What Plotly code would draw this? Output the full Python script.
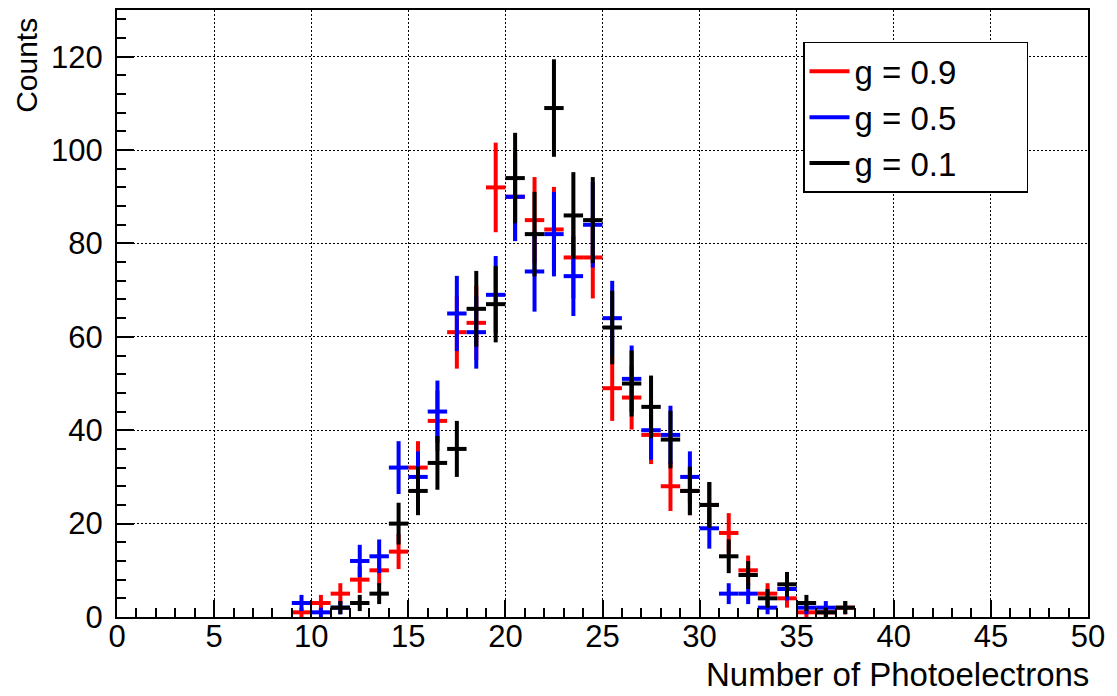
import math
import plotly.graph_objects as go

# ---- data ----
bin_centers = [9.5, 10.5, 11.5, 12.5, 13.5, 14.5, 15.5, 16.5, 17.5, 18.5,
               19.5, 20.5, 21.5, 22.5, 23.5, 24.5, 25.5, 26.5, 27.5, 28.5,
               29.5, 30.5, 31.5, 32.5, 33.5, 34.5, 35.5, 36.5, 37.5]
bin_half_width = 0.5

counts_g09 = [1, 3, 5, 8, 10, 14, 32, 42, 61, 63,
              92, 90, 85, 83, 77, 77, 49, 47, 39, 28,
              27, 24, 18, 10, 5, 4, 1, 1, 2]
counts_g05 = [3, 1, 2, 12, 13, 32, 30, 44, 65, 61,
              69, 90, 74, 82, 73, 84, 64, 51, 40, 39,
              30, 19, 5, 5, 2, 6, 2, 2, 0]
counts_g01 = [0, 0, 2, 3, 5, 20, 27, 33, 36, 66,
              67, 94, 82, 109, 86, 85, 62, 50, 45, 38,
              27, 24, 13, 9, 4, 7, 3, 1, 2]

series_names = ["g = 0.9", "g = 0.5", "g = 0.1"]
series_counts = [counts_g09, counts_g05, counts_g01]
series_colors = ["#ff0000", "#0000ff", "#000000"]

x_ticks = [0, 5, 10, 15, 20, 25, 30, 35, 40, 45, 50]
y_ticks = [0, 20, 40, 60, 80, 100, 120]

FONT = "Liberation Sans, Arial, Helvetica, sans-serif"
PAD = "\u00a0" * 7

fig = go.Figure()

for name, counts, color in zip(series_names, series_counts, series_colors):
    xs = [c for c, n in zip(bin_centers, counts) if n > 0]
    ys = [n for n in counts if n > 0]
    errs = [math.sqrt(n) for n in ys]
    fig.add_trace(go.Scatter(
        x=xs, y=ys, mode="markers",
        marker=dict(size=1, color=color),
        error_x=dict(type="constant", value=bin_half_width, color=color,
                     thickness=4, width=0),
        error_y=dict(type="data", array=errs, color=color,
                     thickness=4, width=0),
        showlegend=False, hoverinfo="skip",
    ))

# legend entries
for name, color in zip(series_names, series_colors):
    fig.add_trace(go.Scatter(
        x=[None], y=[None], mode="lines",
        line=dict(color=color, width=4), name=name + PAD,
    ))

axis_common = dict(
    ticks="inside", tickcolor="black", tickwidth=1.5,
    showline=True, linecolor="black", linewidth=2, mirror=True,
    showgrid=True, gridcolor="black", gridwidth=1, griddash="1.5px,2.5px",
    zeroline=False,
    tickfont=dict(family=FONT, size=31, color="black"),
)

fig.update_xaxes(
    range=[0, 50], tickvals=x_ticks, ticklen=17,
    minor=dict(dtick=1, ticklen=9, ticks="inside", tickcolor="black",
               tickwidth=1.5, showgrid=False),
    ticklabelstandoff=-9,
    **axis_common,
)
fig.update_yaxes(
    range=[0, 130], tickvals=y_ticks, ticklen=17,
    minor=dict(dtick=4, ticklen=9, ticks="inside", tickcolor="black",
               tickwidth=1.5, showgrid=False),
    ticklabelstandoff=6,
    **axis_common,
)

fig.add_annotation(
    text="Number of Photoelectrons", xref="paper", yref="paper",
    x=1, y=-0.095, xanchor="right", yanchor="middle", showarrow=False,
    xshift=3,
    font=dict(family=FONT, size=33, color="black"),
)
fig.add_annotation(
    text="Counts", xref="paper", yref="paper",
    x=-0.094, y=0.8276, xanchor="center", yanchor="bottom", textangle=-90,
    showarrow=False, font=dict(family=FONT, size=30, color="black"),
)

fig.update_layout(
    width=1117, height=696,
    margin=dict(l=117, r=29, t=8, b=79),
    paper_bgcolor="white", plot_bgcolor="white",
    legend=dict(
        x=0.7065, y=0.9475, xanchor="left", yanchor="top",
        bgcolor="white", bordercolor="black", borderwidth=1.5,
        font=dict(family=FONT, size=33, color="black"),
        itemwidth=40, tracegroupgap=0,
    ),
)

fig.write_html("out.html")
